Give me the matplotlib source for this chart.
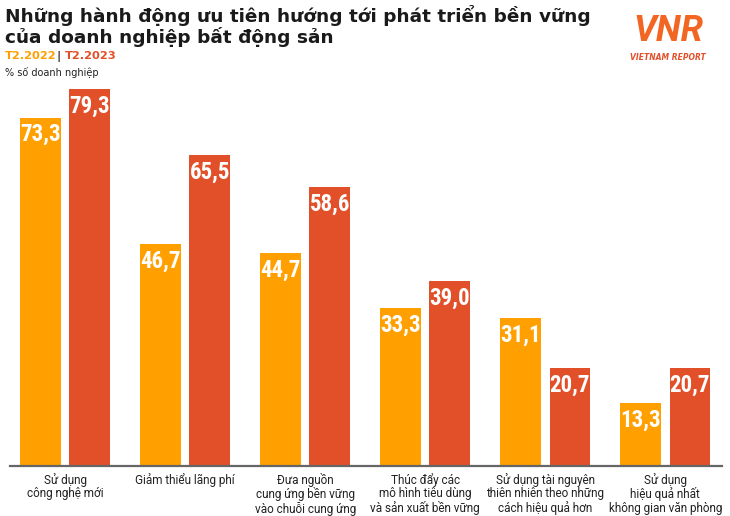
import numpy as np
import matplotlib.pyplot as plt

# Data
categories = ['Sử dụng\ncông nghệ mới', 'Giảm thiểu lãng phí',
              'Đưa nguồn\ncung ứng bền vững\nvào chuỗi cung ứng',
              'Thúc đẩy các\nmô hình tiêu dùng\nvà sản xuất bền vững',
              'Sử dụng tài nguyên\nthiên nhiên theo những\ncách hiệu quả hơn',
              'Sử dụng\nhiệu quả nhất\nkhông gian văn phòng']
values_2022 = [73.3, 46.7, 44.7, 33.3, 31.1, 13.3]
values_2023 = [79.3, 65.5, 58.6, 39.0, 20.7, 20.7]

orange = '#FFA000'
red = '#E2502A'

fig = plt.figure(figsize=(7.3, 5.16), dpi=100)
ax = fig.add_axes([0.0137, 1 - 466 / 516, 0.975, 0.7306])

x = np.arange(len(categories))
w = 0.34
off = 0.205
ax.bar(x - off, values_2022, w, color=orange)
ax.bar(x + off, values_2023, w, color=red)

for xs, vals in [(x - off, values_2022), (x + off, values_2023)]:
    for xi, v in zip(xs, vals):
        ax.text(xi, v - 1.2, f'{v:.1f}'.replace('.', ','), ha='center', va='top',
                color='white', fontsize=16.5, fontweight='bold', family=['Roboto Condensed', 'Roboto'])

ax.set_xlim(-0.46, 5.47)
ax.set_ylim(0, 79.3)
for s in ['top', 'right', 'left']:
    ax.spines[s].set_visible(False)
ax.spines['bottom'].set_color('#666666')
ax.spines['bottom'].set_linewidth(1.6)
ax.set_yticks([])
ax.set_xticks(x)
ax.set_xticklabels(categories, fontsize=8.5, color='#222222', linespacing=1.04,
                   family=['Roboto', 'DejaVu Sans'])
ax.tick_params(axis='x', length=0, pad=5)

# Title block
fig.text(0.007, 0.99, 'Những hành động ưu tiên hướng tới phát triển bền vững\ncủa doanh nghiệp bất động sản',
         ha='left', va='top', fontsize=13.3, fontweight='bold', color='#1a1a1a', linespacing=1.05)
fig.text(0.007, 0.891, 'T2.2022', ha='left', va='center', fontsize=8.2, fontweight='bold', color=orange)
fig.text(0.078, 0.891, '|', ha='left', va='center', fontsize=8.2, fontweight='bold', color='#333333')
fig.text(0.089, 0.891, 'T2.2023', ha='left', va='center', fontsize=8.2, fontweight='bold', color=red)
fig.text(0.007, 0.860, '% số doanh nghiệp', ha='left', va='center', fontsize=7, color='#222222')

# Logo
fig.text(0.915, 0.94, 'VNR', ha='center', va='center', fontsize=26, fontweight='bold',
         style='italic', color='#F26522', family='Roboto')
fig.text(0.915, 0.888, 'VIETNAM REPORT', ha='center', va='center', fontsize=5.5,
         fontweight='bold', style='italic', color='#E2502A')

fig.savefig('out.png', dpi=100)
